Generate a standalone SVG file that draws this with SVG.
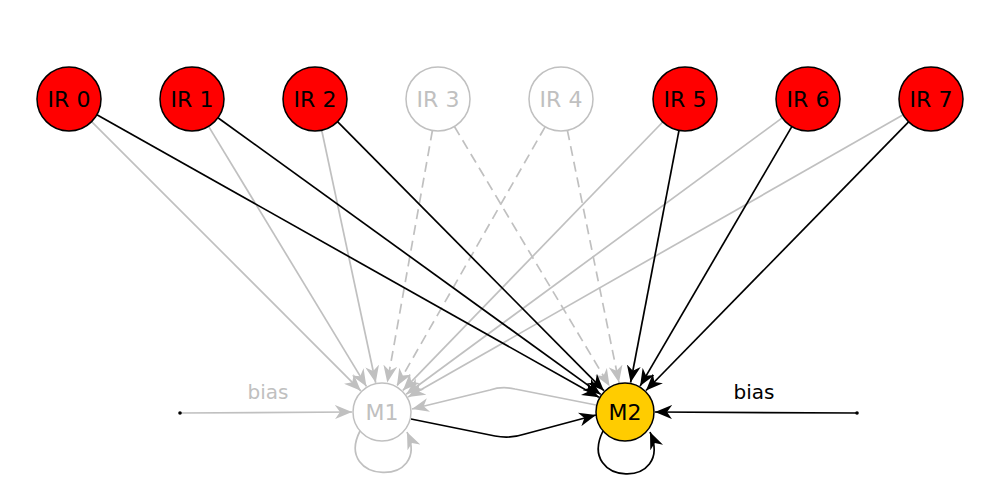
<svg xmlns="http://www.w3.org/2000/svg" width="999" height="495" viewBox="0 0 999 495">
<defs>
<marker id="ab" markerUnits="userSpaceOnUse" markerWidth="18" markerHeight="14" refX="17" refY="7" orient="auto" viewBox="0 0 18 14">
<path d="M0,0 L17,7 L0,14 L5,7 z" fill="#000"/>
</marker>
<marker id="ag" markerUnits="userSpaceOnUse" markerWidth="18" markerHeight="14" refX="17" refY="7" orient="auto" viewBox="0 0 18 14">
<path d="M0,0 L17,7 L0,14 L5,7 z" fill="#c0c0c0"/>
</marker>
</defs>
<style>
.eg{stroke:#c0c0c0;stroke-width:1.7;fill:none;marker-end:url(#ag)}
.eb{stroke:#000;stroke-width:1.7;fill:none;marker-end:url(#ab)}
.d{stroke-dasharray:10,6}
.on{fill:#ff0000;stroke:#000;stroke-width:1.5}
.off{fill:#fff;stroke:#c0c0c0;stroke-width:1.5}
.m2{fill:#ffcc00;stroke:#000;stroke-width:1.5}
text{font-family:"DejaVu Sans","Liberation Sans",sans-serif;font-size:22px;text-anchor:middle}
.tb{fill:#000}
.tg{fill:#c0c0c0}
.lbl{font-size:20px}
</style>
<rect width="999" height="495" fill="#fff"/>
<g id="connectors">
<line class="eg" x1="91.6" y1="121.6" x2="360.8" y2="390.8"/>
<line class="eg" x1="208.6" y1="126.4" x2="366.4" y2="386.4"/>
<line class="eg" x1="321.7" y1="130.3" x2="375.7" y2="382.7"/>
<line class="eg d" x1="432.4" y1="130.5" x2="387.3" y2="382.5"/>
<line class="eg d" x1="545.1" y1="126.8" x2="396.9" y2="386.0"/>
<line class="eg" x1="662.7" y1="122.0" x2="402.9" y2="390.4"/>
<line class="eg" x1="782.2" y1="117.9" x2="406.2" y2="394.2"/>
<line class="eg" x1="903.2" y1="114.8" x2="408.1" y2="397.1"/>
<line class="eg d" x1="454.4" y1="126.5" x2="609.6" y2="386.2"/>
<line class="eg d" x1="567.4" y1="130.4" x2="619.0" y2="382.6"/>
<path class="eg" d="M596,405 L515,389 Q502,386 490,390 L412,409"/>
<line class="eg" x1="180" y1="413" x2="352" y2="412"/>
<path class="eg" d="M360,431 C333,484 432,488 407,432"/>
<line class="eb" x1="96.9" y1="114.7" x2="598.9" y2="397.3"/>
<line class="eb" x1="217.9" y1="117.7" x2="600.7" y2="394.4"/>
<line class="eb" x1="337.5" y1="121.7" x2="603.9" y2="390.7"/>
<line class="eb" x1="679.0" y1="130.4" x2="630.6" y2="382.5"/>
<line class="eb" x1="791.8" y1="126.6" x2="640.1" y2="386.1"/>
<line class="eb" x1="908.6" y1="121.9" x2="646.0" y2="390.5"/>
<path class="eb" d="M411,419 L495,436 Q510,439 525,434 L596,415"/>
<line class="eb" x1="857" y1="413" x2="655" y2="412"/>
<path class="eb" d="M603,431 C576,486 675,490 650,432"/>
<circle cx="180" cy="413" r="1.8" fill="#000"/>
<circle cx="857" cy="413" r="1.8" fill="#000"/>
<text class="tg lbl" x="268" y="399">bias</text>
<text class="tb lbl" x="754" y="399">bias</text>
</g>
<g id="IR0"><circle class="on" cx="69" cy="99" r="32"/><text class="tb" x="69" y="107">IR 0</text></g>
<g id="IR1"><circle class="on" cx="192" cy="99" r="32"/><text class="tb" x="192" y="107">IR 1</text></g>
<g id="IR2"><circle class="on" cx="315" cy="99" r="32"/><text class="tb" x="315" y="107">IR 2</text></g>
<g id="IR3"><circle class="off" cx="438" cy="99" r="32"/><text class="tg" x="438" y="107">IR 3</text></g>
<g id="IR4"><circle class="off" cx="561" cy="99" r="32"/><text class="tg" x="561" y="107">IR 4</text></g>
<g id="IR5"><circle class="on" cx="685" cy="99" r="32"/><text class="tb" x="685" y="107">IR 5</text></g>
<g id="IR6"><circle class="on" cx="808" cy="99" r="32"/><text class="tb" x="808" y="107">IR 6</text></g>
<g id="IR7"><circle class="on" cx="931" cy="99" r="32"/><text class="tb" x="931" y="107">IR 7</text></g>
<g id="M1"><circle class="off" cx="382" cy="412" r="29"/><text class="tg" x="382" y="420">M1</text></g>
<g id="M2"><circle class="m2" cx="625" cy="412" r="29"/><text class="tb" x="625" y="420">M2</text></g>
</svg>
